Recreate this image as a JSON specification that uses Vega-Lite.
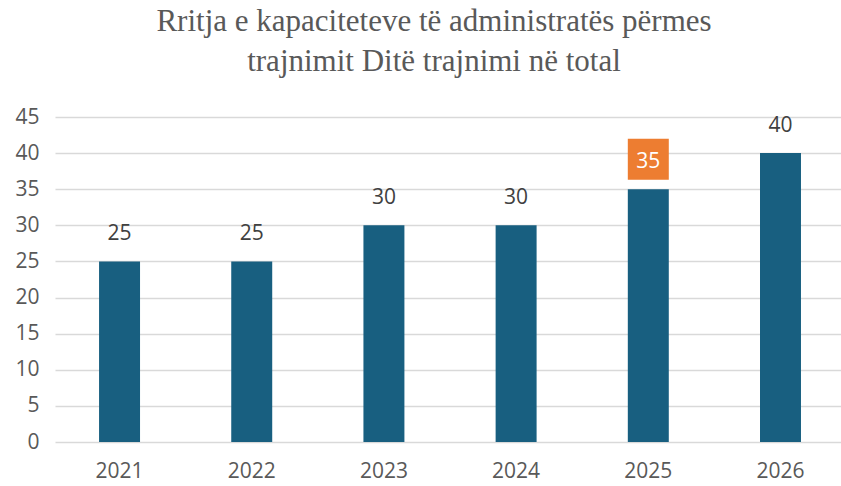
{
  "$schema": "https://vega.github.io/schema/vega-lite/v6.json",
  "width": 786,
  "height": 325,
  "autosize": {"type": "none"},
  "padding": {"left": 55, "top": 117, "right": 0, "bottom": 44},
  "background": "white",
  "title": {
    "text": ["Rritja e kapaciteteve të administratës përmes", "trajnimit Ditë trajnimi në total"],
    "font": "Liberation Serif",
    "fontSize": 31,
    "fontWeight": "normal",
    "color": "#595959",
    "lineHeight": 40,
    "anchor": "middle",
    "frame": "group",
    "offset": 28,
    "dx": -14
  },
  "data": {
    "values": [
      {"year": "2021", "value": 25, "highlight": false},
      {"year": "2022", "value": 25, "highlight": false},
      {"year": "2023", "value": 30, "highlight": false},
      {"year": "2024", "value": 30, "highlight": false},
      {"year": "2025", "value": 35, "highlight": true},
      {"year": "2026", "value": 40, "highlight": false}
    ]
  },
  "encoding": {
    "x": {
      "field": "year",
      "type": "nominal",
      "sort": null,
      "scale": {"paddingInner": 0.69, "paddingOuter": 0.318, "align": 0.524},
      "axis": {
        "title": null,
        "labelAngle": 0,
        "domain": false,
        "ticks": false,
        "labelFont": "Open Sans",
        "labelFontSize": 21,
        "labelColor": "#595959",
        "labelPadding": 18
      }
    },
    "y": {
      "field": "value",
      "type": "quantitative",
      "scale": {"domain": [0, 45], "nice": false},
      "axis": {
        "title": null,
        "values": [0, 5, 10, 15, 20, 25, 30, 35, 40, 45],
        "domain": false,
        "ticks": false,
        "grid": true,
        "gridColor": "#d9d9d9",
        "gridWidth": 1.5,
        "labelFont": "Open Sans",
        "labelFontSize": 21,
        "labelColor": "#595959",
        "labelPadding": 16
      }
    }
  },
  "layer": [
    {
      "mark": {"type": "bar", "color": "#185F80"}
    },
    {
      "transform": [{"filter": "datum.highlight"}],
      "mark": {"type": "point", "shape": "square", "filled": true, "opacity": 1, "color": "#ED7D31", "size": 1680, "yOffset": -30}
    },
    {
      "mark": {"type": "text", "font": "Open Sans", "fontSize": 21, "yOffset": -27, "baseline": "middle"},
      "encoding": {
        "text": {"field": "value", "type": "quantitative"},
        "color": {
          "condition": {"test": "datum.highlight", "value": "#ffffff"},
          "value": "#404040"
        }
      }
    }
  ],
  "config": {"view": {"stroke": null}}
}
